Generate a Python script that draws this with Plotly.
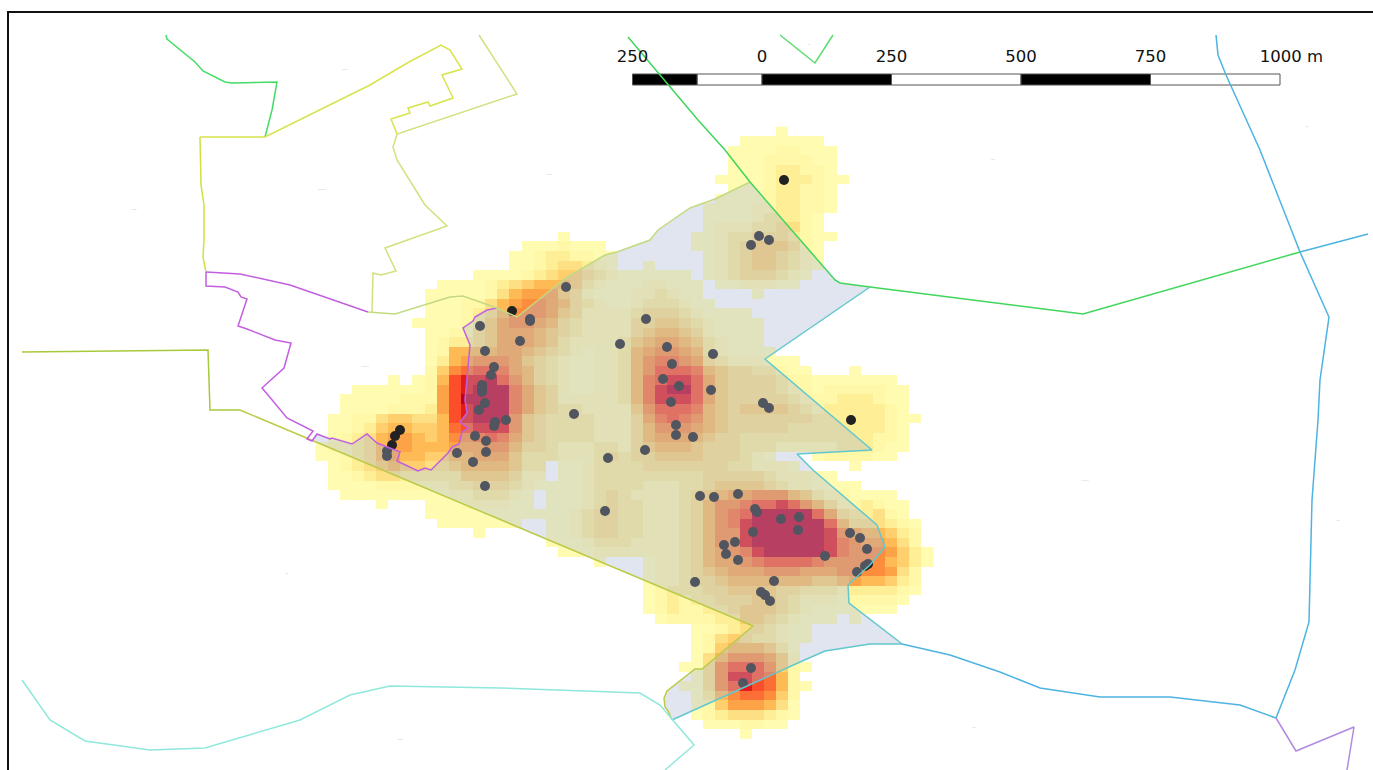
import plotly.graph_objects as go

# ---- kernel density raster, one string per row, 51 columns (groups of five), '.' = no data
HEAT_ROWS = [
"..... ..... ..... ..... ..... ..... ..... ...1. ..... ..... .",
"..... ..... ..... ..... ..... ..... ..... 11111 11... ..... .",
"..... ..... ..... ..... ..... ..... ....1 11122 111.. ..... .",
"..... ..... ..... ..... ..... ..... ....1 11222 211.. ..... .",
"..... ..... ..... ..... ..... ..... ....1 11233 221.. ..... .",
"..... ..... ..... ..... ..... ..... ...11 11233 3211. ..... .",
"..... ..... ..... ..... ..... ..... ....1 11233 221.. ..... .",
"..... ..... ..... ..... ..... ..... ...11 11233 221.. ..... .",
"..... ..... ..... ..... ..... ..... ..111 12233 221.. ..... .",
"..... ..... ..... ..... ..... ..... ..111 12333 21... ..... .",
"..... ..... ..... ..... ..... ..... ..122 23344 21... ..... .",
"..... ..... ..... ..... 1.... ..... .1123 34443 211.. ..... .",
"..... ..... ..... ..111 2111. ..... .1123 45554 21... ..... .",
"..... ..... ..... .1123 32211 ..... ..123 45543 21... ..... .",
"..... ..... ..... .1123 44321 ..1.. ..123 45543 21... ..... .",
"..... ..... ...11 11234 55432 11111 1.123 44432 1.... ..... .",
"..... ..... 11112 34566 65321 11221 11.11 22211 ..... ..... .",
"..... ....1 11112 46777 54211 12232 11... .1... ..... ..... .",
"..... ....1 11224 67887 64321 12333 211.. ..... ..... ..... .",
"..... ....1 11234 68887 54222 23444 32111 1.... ..... ..... .",
"..... ...11 11235 78876 43222 24455 43211 11... ..... ..... .",
"..... ....1 12245 77765 43222 24566 54211 11... ..... ..... .",
"..... ....1 23345 77765 32222 35677 65321 11... ..... ..... .",
"..... ....1 26666 77654 32122 36788 76321 111.. ..... ..... .",
"..... ....1 36788 87543 21122 36899 87432 22111 ..... ..... .",
"..... ....2 589aa 97643 21122 368aa a9654 43321 1...1 ..... .",
"..... .1.12 6abbc a8643 21122 369ab ba754 44432 21111 111.. .",
"...11 11112 7abcc c9754 21122 369bc ca754 44432 21222 2211. .",
"..111 11222 7accc c9754 22222 369bb ba754 44443 22233 3211. .",
"..111 12223 7abcc c9754 33222 258aa a9654 55554 32333 3321. .",
".1122 45544 6abcc c8543 33322 2479a 98654 44444 43333 33211 .",
".1123 56655 69abb b8543 33322 24688 87654 44443 33333 3321. .",
".1234 67765 6889a 97543 33322 24677 76544 33333 33333 3221. .",
"12234 67766 67778 86443 22233 24566 65444 33322 22233 3211. .",
"11234 67665 56677 75333 22234 34455 55444 321.. .1222 211.. .",
".1234 56554 45666 6533. 11233 33444 44443 32221 ....1 ..... .",
".1123 44333 33555 5422. 11233 33333 33444 44322 211.. ..... .",
".1111 22222 23344 43211 11233 33222 33455 55432 21111 ..... .",
"..111 11111 12233 321.1 11234 32222 34567 78886 53221 111.. .",
"..... 1...1 11222 211.1 11234 33222 34688 9aaba 86422 3211. .",
"..... ....1 11111 11111 12344 33222 34689 acccc ca743 3421. .",
"..... ..... 11111 11..1 12344 33222 34689 bcccc cca64 44321 .",
"..... ..... ...1. ....1 12344 33222 34688 bcccc ccb87 66532 .",
"..... ..... ..... ....1 11233 32222 34688 bcccc ccb98 77642 .",
"..... ..... ..... ..... 11122 22222 34678 9bccc ccb98 88753 1",
"..... ..... ..... ..... ...1. ..122 34677 89aaa a9888 88653 1",
"..... ..... ..... ..... ..... ..122 34567 77888 77788 88742 .",
"..... ..... ..... ..... ..... ..122 34456 66666 65567 66532 .",
"..... ..... ..... ..... ..... ..123 33445 55544 33323 33321 .",
"..... ..... ..... ..... ..... ..123 23344 45543 22212 2221. .",
"..... ..... ..... ..... ..... ..123 22334 55543 21111 111.. .",
"..... ..... ..... ..... ..... ...12 22233 55432 111.1 ..... .",
"..... ..... ..... ..... ..... ..... .1123 44321 1.... ..... .",
"..... ..... ..... ..... ..... ..... .1245 43321 1.... ..... .",
"..... ..... ..... ..... ..... ..... .1256 66531 ..... ..... .",
"..... ..... ..... ..... ..... ..... .1468 88752 ..... ..... .",
"..... ..... ..... ..... ..... ..... 1148a aa852 1.... ..... .",
"..... ..... ..... ..... ..... ..... .148b ba962 ..... ..... .",
"..... ..... ..... ..... ..... ..... 1148a ba962 1.... ..... .",
"..... ..... ..... ..... ..... ..... .1368 99852 ..... ..... .",
"..... ..... ..... ..... ..... ..... .1257 77641 ..... ..... .",
"..... ..... ..... ..... ..... ..... .1234 44321 ..... ..... .",
"..... ..... ..... ..... ..... ..... ..111 2211. ..... ..... .",
"..... ..... ..... ..... ..... ..... ..... 1.... ..... ..... .",
]
HEAT_COLORS = ["#FFFCB2", "#FFF8A8", "#FEEE96", "#FEE084", "#FECF6C", "#FEBB55",
               "#FDA347", "#FD8D3C", "#FC6E34", "#FC4E2A", "#E31A1C", "#BD0026"]
GRID_X0, GRID_DX, GRID_Y0, GRID_DY = 315.5, 12.12, 126.7, 9.567

# ---- incident points
POINTS_X = [784,759,769,751,566,512,530,530,480,520,646,620,667,713,485,494,491,672,663,679,711,671,
            482,482,482,485,479,574,506,495,494,763,769,851,676,676,693,645,608,475,486,486,457,473,485,
            400,395,392,387,387,700,714,738,755,757,781,799,798,753,605,735,724,726,738,825,850,860,867,
            868,865,857,774,695,761,765,770,751,743]
POINTS_Y = [180,236,240,245,287,311,319,321,326,341,319,344,347,354,351,367,375,364,379,386,390,402,
            385,389,392,403,410,414,420,422,426,403,408,420,425,435,437,450,458,436,441,452,453,462,486,
            430,436,445,451,456,496,497,494,509,512,519,517,530,532,511,542,545,554,560,556,533,538,549,
            564,566,572,581,582,592,595,601,668,683]

# ---- study area polygon (translucent layer over raster and points)
AREA_X = [497,517,567,605,617,650,658,690,715,750,835,840,870,765,872,797,813,877,885,870,848,849,897,902,
          870,825,800,672,668,665,664,667,695,702,753,312,317,330,332,352,367,377,400,397,418,425,431,448,
          452,459,462,468,460,467,465,470,463,473,475,487,497]
AREA_Y = [308,317,277,255,252,240,230,208,199,182,280,283,287,359,450,454,470,525,547,565,585,603,640,644,
          644,651,662,720,711,707,698,691,669,669,626,441,434,439,438,444,434,443,452,461,471,468,470,453,
          447,444,432,428,422,413,400,345,328,321,317,310,308]

# ---- district boundaries: (name, colour, xs, ys)
BOUNDARIES = [
 ("nw_green", "#45dd66", [166,167,195,203,225,232,277,272,265], [35,39,62,71,82,83,82,110,137]),
 ("n_yellow", "#d8e34a", [200,265,370,409,441,450,462,442,453,430,428,408,410,391,397],
                         [137,137,85,62,45,50,69,75,98,106,102,108,113,119,134]),
 ("n_pale", "#d3e07e", [479,517,397,393,397,425,447,385,396,381,373,372], [35,94,134,147,160,205,226,248,271,275,273,312]),
 ("w_yellow", "#cfe040", [200,201,204,204,203,206], [137,185,205,240,257,272]),
 ("w_olive", "#a9c93c", [22,208,210,240], [352,350,410,410]),
 ("sw_olive", "#bccb45", [240,753,702,695,667,664,665,668,672], [410,626,669,669,691,698,707,711,720]),
 ("purple_n", "#c25fe0", [206,240,290,340,368], [272,274,285,302,312]),
 ("purple", "#c25fe0", [206,206,225,238,241,247,238,247,275,291,284,262,268,287,313,307,312,317,330,332,352,367,377,400,397,
                        418,425,431,448,452,459,462,468,460,467,465,470,463,473,475,487,497],
                       [272,286,287,292,297,299,326,329,340,343,368,388,395,418,431,439,441,434,439,438,444,434,443,452,461,
                        471,468,470,453,447,444,432,428,422,413,400,345,328,321,317,310,308]),
 ("nw_area", "#c3da80", [368,395,450,463,497,517,567,605,617,650,658,690,715,750],
                        [312,314,297,296,308,317,277,255,252,240,230,208,199,182]),
 ("green", "#3fd65a", [628,698,725,750,835,840,870,1083,1300], [37,120,150,182,280,283,287,314,252]),
 ("green_v", "#5bdc6e", [780,815,833], [35,63,35]),
 ("teal", "#62c8cc", [870,765,872,797,813,877,885,870,848,849,897,902,870,825,800,672],
                     [287,359,450,454,470,525,547,565,585,603,640,644,644,651,662,720]),
 ("blue", "#4db3e3", [1216,1218,1226,1260,1300,1329,1320,1318,1312,1309,1295,1276,1240,1170,1100,1040,1000,950,902],
                     [35,55,75,150,252,317,380,420,500,622,670,718,705,697,697,688,672,655,644]),
 ("blue_e", "#4db3e3", [1300,1368], [252,234]),
 ("lavender", "#b08ae0", [1276,1296,1354,1347], [718,751,727,770]),
 ("aqua", "#8fe8dc", [22,50,85,150,205,300,350,390,500,640,660,694,665],
                     [680,720,741,750,748,720,695,686,688,693,705,745,770]),
]

# ---- scale bar
SCALE_EDGES_M = [-250,-125,0,250,500,750,1000]
SCALE_COLORS = ["#000000","#ffffff","#000000","#ffffff","#000000","#ffffff"]
SCALE_LABELS = ["250","0","250","500","750","1000 m"]
SCALE_LABEL_M = [-250,0,250,500,750,1022]
SCALE_ORIGIN_X, SCALE_PX_PER_M, SCALE_Y, SCALE_H, SCALE_LABEL_Y = 762.0, 0.518, 79.5, 11, 58

# ---- tiny place labels (too small to read)
PLACE_X = [345,322,549,134,993,1085,1338,1307,287,400,974,365,809]
PLACE_Y = [69,189,174,209,159,480,520,126,573,739,727,366,44]
PLACE_TEXT = ["-----","--------","-----","-----","----","-------","---","---","---","-----","---","-------","--"]

# ---- build
z = []
for row in HEAT_ROWS:
    cells = row.replace(" ", "")
    z.append([None if ch == "." else int(ch, 16) for ch in cells])
n_cols = max(len(r) for r in z)
xs = [GRID_X0 + GRID_DX * (i + 0.5) for i in range(n_cols)]
ys = [GRID_Y0 + GRID_DY * (i + 0.5) for i in range(len(z))]
n = len(HEAT_COLORS)
colorscale = [[i / (n - 1), c] for i, c in enumerate(HEAT_COLORS)]

fig = go.Figure()
fig.add_trace(go.Heatmap(x=xs, y=ys, z=z, zmin=1, zmax=12, colorscale=colorscale,
                         showscale=False, hoverinfo="skip", zsmooth=False))
fig.add_trace(go.Scatter(x=POINTS_X, y=POINTS_Y, mode="markers", hoverinfo="skip",
                         marker=dict(size=10, color="#222222", line=dict(width=0))))
fig.add_trace(go.Scatter(x=AREA_X, y=AREA_Y, mode="lines", fill="toself", hoverinfo="skip",
                         fillcolor="rgba(169,181,212,0.35)", line=dict(width=0)))
for name, color, bx, by in BOUNDARIES:
    fig.add_trace(go.Scatter(x=bx, y=by, mode="lines", name=name, hoverinfo="skip",
                             line=dict(color=color, width=1.5)))

for i, col in enumerate(SCALE_COLORS):
    a = SCALE_ORIGIN_X + SCALE_EDGES_M[i] * SCALE_PX_PER_M
    b = SCALE_ORIGIN_X + SCALE_EDGES_M[i + 1] * SCALE_PX_PER_M
    fig.add_trace(go.Bar(x=[b - a], y=[SCALE_Y], base=[a], orientation="h", width=SCALE_H,
                         hoverinfo="skip", marker=dict(color=col, line=dict(color="#555555", width=1))))
fig.add_trace(go.Scatter(x=[SCALE_ORIGIN_X + m * SCALE_PX_PER_M for m in SCALE_LABEL_M],
                         y=[SCALE_LABEL_Y] * len(SCALE_LABELS), text=SCALE_LABELS, mode="text",
                         textposition="middle center", hoverinfo="skip",
                         textfont=dict(family="DejaVu Sans", size=16.5, color="#111111")))
fig.add_trace(go.Scatter(x=PLACE_X, y=PLACE_Y, text=PLACE_TEXT, mode="text", hoverinfo="skip",
                         textposition="middle center",
                         textfont=dict(family="DejaVu Sans", size=3, color="#777777")))

fig.add_shape(type="rect", x0=8, y0=12, x1=1380, y1=780, line=dict(color="#111111", width=2))

fig.update_layout(width=1373, height=770, margin=dict(l=0, r=0, t=0, b=0), showlegend=False,
                  paper_bgcolor="white", plot_bgcolor="white", barmode="overlay",
                  xaxis=dict(range=[0, 1373], visible=False, fixedrange=True),
                  yaxis=dict(range=[770, 0], visible=False, fixedrange=True))
fig.write_html("out.html", config={"displayModeBar": False},
               post_script="document.body.style.margin='0';document.body.style.overflow='hidden';")
